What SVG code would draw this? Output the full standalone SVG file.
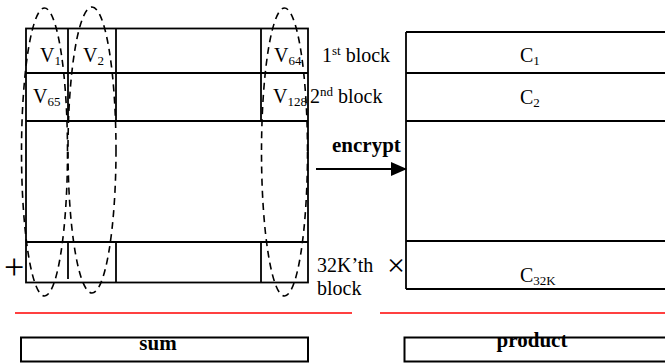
<svg xmlns="http://www.w3.org/2000/svg" width="665" height="364" viewBox="0 0 665 364">
<style>
.ln{stroke:#000;stroke-width:1.8;fill:none}
.box{stroke:#000;stroke-width:2;fill:#fff}
.ell{stroke:#000;stroke-width:1.6;fill:none;stroke-dasharray:7,5}
.red{stroke:#f00;stroke-width:1.6}
text{font-family:"Liberation Serif","Times New Roman",serif;fill:#000}
.t{font-size:20px}
.s{font-size:13px}
.b{font-size:21px;font-weight:bold}
</style>
<defs>
<marker id="ah" markerWidth="16" markerHeight="14" refX="15" refY="7" orient="auto" markerUnits="userSpaceOnUse">
<path d="M0,0 L16,7 L0,14 z" fill="#000"/>
</marker>
</defs>
<rect width="665" height="364" fill="#fff"/>
<g id="sum-table">
<rect class="ln" x="26" y="28.5" width="282" height="254"/>
<line class="ln" x1="26" y1="73" x2="308" y2="73"/>
<line class="ln" x1="26" y1="121" x2="308" y2="121"/>
<line class="ln" x1="26" y1="242" x2="308" y2="242"/>
<line class="ln" x1="68" y1="28.5" x2="68" y2="121"/>
<line class="ln" x1="116" y1="28.5" x2="116" y2="121"/>
<line class="ln" x1="261" y1="28.5" x2="261" y2="121"/>
<line class="ln" x1="68" y1="242" x2="68" y2="279"/>
<line class="ln" x1="116" y1="242" x2="116" y2="282"/>
<line class="ln" x1="261" y1="242" x2="261" y2="282"/>
<text class="t" x="40" y="62">V<tspan class="s" dy="3">1</tspan></text>
<text class="t" x="83" y="62">V<tspan class="s" dy="3">2</tspan></text>
<text class="t" x="274" y="62">V<tspan class="s" dy="3">64</tspan></text>
<text class="t" x="33" y="103">V<tspan class="s" dy="3">65</tspan></text>
<text class="t" x="273" y="103">V<tspan class="s" dy="3">128</tspan></text>
</g>
<g id="ellipses">
<ellipse class="ell" cx="44.5" cy="152" rx="23" ry="144"/>
<ellipse class="ell" cx="92" cy="150" rx="24" ry="143"/>
<ellipse class="ell" cx="284.5" cy="152" rx="23" ry="144"/>
</g>
<g id="labels">
<text class="t" x="322" y="62">1<tspan class="s" dy="-7">st</tspan><tspan dy="7"> block</tspan></text>
<text class="t" x="310" y="103">2<tspan class="s" dy="-7">nd</tspan><tspan dy="7"> block</tspan></text>
<text class="t" x="317" y="272">32K’th</text>
<text class="t" x="317" y="295">block</text>
<text x="4" y="279" style="font-size:36px">+</text>
<text x="387" y="276" style="font-size:32px">×</text>
<text class="b" x="332" y="152">encrypt</text>
</g>
<g id="product-table">
<line class="ln" x1="406" y1="32" x2="406" y2="289"/>
<line class="ln" x1="406" y1="32" x2="665" y2="32"/>
<line class="ln" x1="406" y1="73" x2="665" y2="73"/>
<line class="ln" x1="406" y1="121" x2="665" y2="121"/>
<line class="ln" x1="406" y1="241" x2="665" y2="241"/>
<line class="ln" x1="406" y1="289" x2="665" y2="289"/>
<text class="t" x="520" y="62">C<tspan class="s" dy="3">1</tspan></text>
<text class="t" x="520" y="104">C<tspan class="s" dy="3">2</tspan></text>
<text class="t" x="520" y="282">C<tspan class="s" dy="3">32K</tspan></text>
</g>
<g id="connectors">
<line class="ln" x1="316" y1="169" x2="406" y2="169" marker-end="url(#ah)"/>
</g>
<g id="separators">
<line class="red" x1="15" y1="313" x2="352" y2="313"/>
<line class="red" x1="380" y1="313" x2="665" y2="313"/>
</g>
<g id="sum">
<rect class="box" x="21" y="337.5" width="287" height="24"/>
<text class="b" x="158" y="350" text-anchor="middle">sum</text>
</g>
<g id="product">
<path class="ln" style="stroke-width:2" d="M665,337.5 H404.5 V361.5 H665"/>
<text class="b" x="532" y="347" text-anchor="middle">product</text>
</g>
</svg>
